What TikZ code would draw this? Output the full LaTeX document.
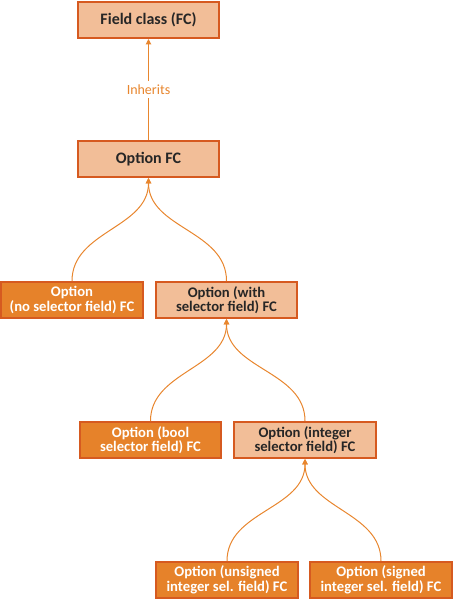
\documentclass[tikz,border=0pt]{standalone}
\usepackage{fontspec}
\setmainfont{Carlito}
\usetikzlibrary{arrows.meta}

\definecolor{fcline}{HTML}{D65A20}
\definecolor{fclight}{HTML}{F2BE98}
\definecolor{fcdark}{HTML}{E6822A}
\definecolor{fcarrow}{HTML}{E8862E}

\begin{document}
\begin{tikzpicture}[x=0.75pt, y=-0.75pt,
  fcbox/.style={draw=fcline, line width=1.5pt, minimum width=106pt, minimum height=27pt,
    inner sep=1pt, align=center, font=\fontsize{11}{11}\selectfont\bfseries},
  fclightbox/.style={fcbox, fill=fclight, text=black!85},
  fcdarkbox/.style={fcbox, fill=fcdark, text=white},
  link/.style={draw=fcarrow, line width=0.75pt, -{Triangle[length=4pt,width=4pt]}}]
\useasboundingbox (0,0) rectangle (453,600);

% boxes
\node[fclightbox, font=\fontsize{12}{12}\selectfont\bfseries] (fc)  at (148.5,20)  {Field class (FC)};
\node[fclightbox, font=\fontsize{12}{12}\selectfont\bfseries] (opt) at (148.5,159) {Option FC};
\node[fcdarkbox]  (nosel)  at (72,300)    {Option\\(no selector field) FC};
\node[fclightbox] (withsel) at (226.5,300) {Option (with\\selector field) FC};
\node[fcdarkbox]  (boolsel) at (150.5,440) {Option (bool\\selector field) FC};
\node[fclightbox] (intsel) at (305,440)   {Option (integer\\selector field) FC};
\node[fcdarkbox]  (usint)  at (227,580)   {Option (unsigned\\integer sel. field) FC};
\node[fcdarkbox]  (sint)   at (381,580)   {Option (signed\\integer sel. field) FC};

% inheritance
\draw[link] (opt) -- node[pos=0.5, fill=white, text=fcarrow, inner sep=3pt,
  font=\fontsize{10.5}{11}\selectfont] {Inherits} (fc);
\draw[link] (nosel.north) to[out=90,in=-90] (opt.south);
\draw[link] (withsel.north) to[out=90,in=-90] (opt.south);
\draw[link] (boolsel.north) to[out=90,in=-90] (withsel.south);
\draw[link] (intsel.north) to[out=90,in=-90] (withsel.south);
\draw[link] (usint.north) to[out=90,in=-90] (intsel.south);
\draw[link] (sint.north) to[out=90,in=-90] (intsel.south);
\end{tikzpicture}
\end{document}
